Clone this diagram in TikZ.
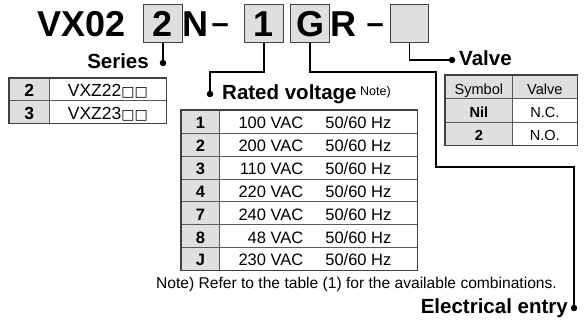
\documentclass[tikz,border=0pt]{standalone}
\usepackage{fontspec}
\setmainfont{Liberation Sans}
\newfontfamily\sqfont{DejaVu Sans}
\usetikzlibrary{positioning,calc}

\newcommand{\voltrow}[1]{\makebox[66pt][r]{#1 VAC}\hspace{22pt}\makebox[74pt][l]{50/60 Hz}}

\begin{document}
\begin{tikzpicture}[
    x=1pt, y=-1pt,
    slot/.style={draw=black!75, line width=1.3pt, fill=gray!25, minimum width=38.5pt,
                 minimum height=37.5pt, inner sep=0pt, text height=27pt, text depth=0pt,
                 font=\fontsize{36}{40}\selectfont\bfseries},
    code/.style={anchor=base west, inner sep=0pt,
                 font=\fontsize{36}{40}\selectfont\bfseries},
    titel/.style={inner sep=0pt, font=\fontsize{20.5}{22}\selectfont\bfseries},
    cell/.style={draw=black!65, line width=0.7pt, anchor=north west, inner sep=0pt,
                 text height=14pt, text depth=0pt},
    key/.style={cell, fill=gray!25, execute at begin node=\bfseries},
    frame/.style={draw=black!75, line width=1.3pt},
    wire/.style={line width=1.3pt},
    dot/.style={circle, fill=black, inner sep=0pt, minimum size=6.5pt}
]
\useasboundingbox (0,0) rectangle (585,323);

% model code
\node[code]  (vx)    at (37,37)    {VX02};
\node[slot]  (s2)    at (163,23.5) {2};
\node[code]  (n)     at (182.5,37) {N};
\node[code, font=\fontsize{31}{32}\selectfont\bfseries] (dash1) at (211.5,34) {–};
\node[slot]  (s1)    at (264,23.5) {1};
\node[slot]  (sG)    at (310,23.5) {G};
\node[code]  (r)     at (330,37)   {R};
\node[code, font=\fontsize{31}{32}\selectfont\bfseries] (dash2) at (366.5,34) {–};
\node[slot]  (sV)    at (409.5,23.5) {};

% labels
\node[titel, anchor=base east] (series) at (149,69)  {Series};
\node[dot]                     (dSer)   at (163,63)  {};
\node[titel, anchor=base west] (volt)   at (222,100) {Rated voltage};
\node[anchor=base west, inner sep=0pt, font=\fontsize{12.5}{13}\selectfont]
                               (voltnote) at (360,96) {Note)};
\node[dot]                     (dVolt)  at (210,94)  {};
\node[titel, anchor=base west] (valve)  at (459,66)  {Valve};
\node[dot]                     (dValve) at (452,60)  {};
\node[titel, anchor=base east] (elec)   at (568,313) {Electrical entry};
\node[dot]                     (dElec)  at (574,308) {};
\coordinate (kink) at (436,167);

\draw[wire] (s2.south) -- (dSer);
\draw[wire] (s1.south) -- ++(0,29) -| (dVolt);
\draw[wire] (sG.south) -- ++(0,29) -| (kink) -| (dElec);
\draw[wire] (sV.south) |- (dValve);

% series table
\begin{scope}[font=\fontsize{17.5}{19}\selectfont, cell/.append style={minimum height=22.5pt}]
\node[key, minimum width=40pt]   (ser2)  at (9,78)    {2};
\node[cell, minimum width=117pt] (ser2v) at (49,78)   {VXZ22{\sqfont\fontsize{14}{15}\selectfont □□}};
\node[key, minimum width=40pt]   (ser3)  at (9,100.5) {3};
\node[cell, minimum width=117pt] (ser3v) at (49,100.5) {VXZ23{\sqfont\fontsize{14}{15}\selectfont □□}};
\draw[frame] (ser2.north west) rectangle (ser3v.south east);
\end{scope}

% rated voltage table
\begin{scope}[font=\fontsize{16.5}{18}\selectfont, cell/.append style={minimum height=22.86pt}]
\node[key, minimum width=38pt]   (v1)  at (181,110)    {1};
\node[cell, minimum width=198pt] (v1v) at (219,110)    {\voltrow{100}};
\node[key, minimum width=38pt]   (v2)  at (181,132.86) {2};
\node[cell, minimum width=198pt] (v2v) at (219,132.86) {\voltrow{200}};
\node[key, minimum width=38pt]   (v3)  at (181,155.71) {3};
\node[cell, minimum width=198pt] (v3v) at (219,155.71) {\voltrow{110}};
\node[key, minimum width=38pt]   (v4)  at (181,178.57) {4};
\node[cell, minimum width=198pt] (v4v) at (219,178.57) {\voltrow{220}};
\node[key, minimum width=38pt]   (v7)  at (181,201.43) {7};
\node[cell, minimum width=198pt] (v7v) at (219,201.43) {\voltrow{240}};
\node[key, minimum width=38pt]   (v8)  at (181,224.29) {8};
\node[cell, minimum width=198pt] (v8v) at (219,224.29) {\voltrow{48}};
\node[key, minimum width=38pt]   (vJ)  at (181,247.14) {J};
\node[cell, minimum width=198pt] (vJv) at (219,247.14) {\voltrow{230}};
\draw[frame] (v1.north west) rectangle (vJv.south east);
\end{scope}

\node[anchor=base east, inner sep=0pt, font=\fontsize{15.6}{17}\selectfont]
    (note) at (557,288) {Note) Refer to the table (1) for the available combinations.};

% valve table
\begin{scope}[font=\fontsize{14.6}{16}\selectfont, cell/.append style={minimum height=23.33pt}]
\node[cell, fill=gray!25, minimum width=67pt] (vsym)  at (445,75)    {Symbol};
\node[cell, fill=gray!25, minimum width=65pt] (vval)  at (512,75)    {Valve};
\node[key, minimum width=67pt]                (vnil)  at (445,98.33) {Nil};
\node[cell, minimum width=65pt]               (vnc)   at (512,98.33) {N.C.};
\node[key, minimum width=67pt]                (vtwo)  at (445,121.67) {2};
\node[cell, minimum width=65pt]               (vno)   at (512,121.67) {N.O.};
\draw[frame] (vsym.north west) rectangle (vno.south east);
\end{scope}

\end{tikzpicture}
\end{document}
